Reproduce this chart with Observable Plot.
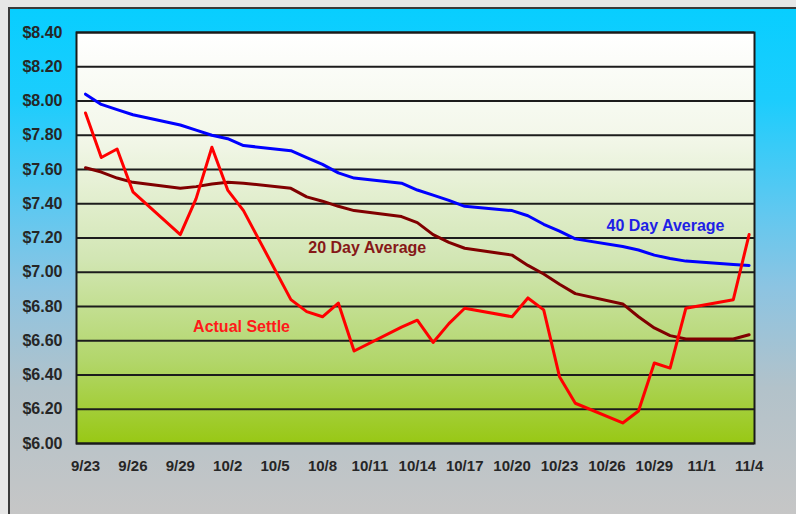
<!DOCTYPE html>
<html><head><meta charset="utf-8">
<script src="https://cdn.jsdelivr.net/npm/d3@7"></script>
<script src="https://cdn.jsdelivr.net/npm/@observablehq/plot@0.6"></script>
<style>
html,body{margin:0;padding:0;background:#e6e6e6;width:796px;height:514px;overflow:hidden}
#panel{position:absolute;left:8px;top:7px;width:786px;height:505px;border-left:2px solid #3a3a3a;border-top:2px solid #3a3a3a;
background:linear-gradient(to bottom,#08ceff 0%,#1ccdfd 18%,#60c8f0 40%,#8cc4e2 55%,#b2c2ca 75%,#c6c6c6 100%)}
#chart{position:absolute;left:0;top:0}
#chart svg{overflow:visible}
</style></head><body><div id="panel"></div><div id="chart"></div>
<script>
// Trading dates (2008)
const dates = ["2008-09-23","2008-09-24","2008-09-25","2008-09-26","2008-09-29","2008-09-30","2008-10-01","2008-10-02","2008-10-03",
  "2008-10-06","2008-10-07","2008-10-08","2008-10-09","2008-10-10","2008-10-13","2008-10-14","2008-10-15","2008-10-16","2008-10-17",
  "2008-10-20","2008-10-21","2008-10-22","2008-10-23","2008-10-24","2008-10-27","2008-10-28","2008-10-29","2008-10-30","2008-10-31",
  "2008-11-03","2008-11-04"];
const settle = [7.93,7.67,7.72,7.47,7.22,7.43,7.73,7.48,7.36,6.84,6.77,6.74,6.82,6.54,6.68,6.72,6.59,6.70,6.79,6.74,6.85,6.78,6.39,6.235,6.12,6.19,6.47,6.44,6.79,6.84,7.22];
const avg20 = [7.61,7.585,7.55,7.525,7.49,7.50,7.515,7.525,7.52,7.49,7.44,7.415,7.385,7.36,7.325,7.29,7.22,7.175,7.14,7.10,7.04,6.99,6.93,6.875,6.815,6.74,6.675,6.63,6.61,6.61,6.635];
const avg40 = [8.04,7.98,7.95,7.92,7.86,7.83,7.80,7.78,7.74,7.71,7.67,7.63,7.58,7.55,7.52,7.48,7.45,7.42,7.385,7.36,7.33,7.28,7.24,7.195,7.15,7.13,7.10,7.08,7.065,7.045,7.04];
const xTickLabels = ["9/23","9/26","9/29","10/2","10/5","10/8","10/11","10/14","10/17","10/20","10/23","10/26","10/29","11/1","11/4"];
const yTicks = [6.0,6.2,6.4,6.6,6.8,7.0,7.2,7.4,7.6,7.8,8.0,8.2,8.4];
const labelText = ["40 Day Average","20 Day Average","Actual Settle"];
const labelDates = ["2008-10-29T17:00Z","2008-10-10T20:00Z","2008-10-02T21:00Z"];
const labelValues = [7.27,7.14,6.68];
const labelColors = ["#1f1fe6","#861818","#ff1a1a"];

const parse = d3.utcParse("%Y-%m-%d");
const data = dates.map((d,i)=>({date:parse(d), settle:settle[i], avg20:avg20[i], avg40:avg40[i]}));
const xTicks = xTickLabels.map(s=>{const [m,d]=s.split("/"); return new Date(Date.UTC(2008,+m-1,+d));});
const labels = labelText.map((t,i)=>({text:t, date:new Date(labelDates[i]), value:labelValues[i], color:labelColors[i]}));

const plot = Plot.plot({
  width:796, height:514, marginLeft:76, marginRight:42, marginTop:32, marginBottom:71,
  style:{background:"transparent", fontFamily:"'Liberation Sans', Arial, sans-serif", overflow:"visible"},
  x:{type:"utc", domain:[xTicks[0], xTicks[xTicks.length-1]], range:[85,748.6]},
  y:{domain:[6,8.4], range:[443,32]},
  marks:[
    Plot.frame({fill:"url(#plotbg)"}),
    Plot.ruleY(yTicks,{stroke:"#1c1c1c", strokeWidth:2}),
    Plot.frame({stroke:"#1a1a1a", strokeWidth:2}),
    Plot.axisY({ticks:yTicks, tickSize:0, tickPadding:14, tickFormat:d=>"$"+d.toFixed(2), fontSize:16, fontWeight:"bold", fill:"#262626", label:null}),
    Plot.axisX({ticks:xTicks, tickSize:0, tickPadding:17, tickFormat:(d,i)=>xTickLabels[i], fontSize:15, fontWeight:"bold", fill:"#262626", label:null}),
    Plot.line(data,{x:"date", y:"avg20", stroke:"#800000", strokeWidth:3, strokeLinejoin:"round"}),
    Plot.line(data,{x:"date", y:"avg40", stroke:"#0000ff", strokeWidth:3, strokeLinejoin:"round"}),
    Plot.line(data,{x:"date", y:"settle", stroke:"#ff0000", strokeWidth:3, strokeLinejoin:"round"}),
    Plot.text(labels,{x:"date", y:"value", text:"text", fill:"color", fontSize:16, fontWeight:"bold", textAnchor:"middle"})
  ]
});
d3.select(plot).insert("defs",":first-child").html(
  '<linearGradient id="plotbg" x1="0" y1="0" x2="0" y2="1">'+
  '<stop offset="0" stop-color="#ffffff"/><stop offset="0.25" stop-color="#f3f7ea"/>'+
  '<stop offset="0.55" stop-color="#d2e6b4"/><stop offset="0.8" stop-color="#b2d66a"/>'+
  '<stop offset="1" stop-color="#98c814"/></linearGradient>');
document.getElementById("chart").appendChild(plot);
</script></body></html>
